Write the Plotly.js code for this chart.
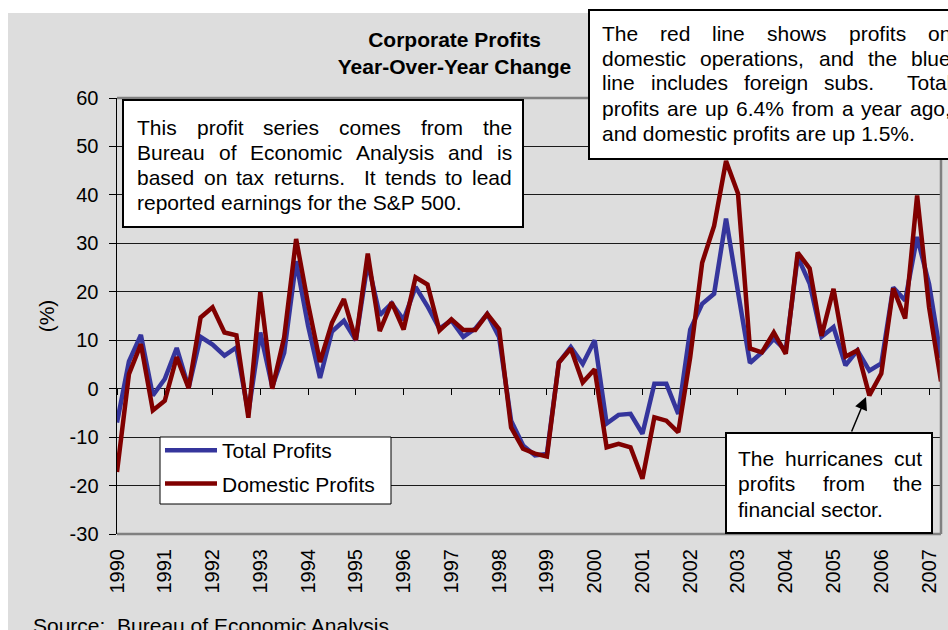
<!DOCTYPE html>
<html><head><meta charset="utf-8">
<script src="https://cdn.plot.ly/plotly-3.0.1.min.js"></script>
<style>html,body{margin:0;padding:0;background:#fff}#chart{width:948px;height:630px}</style>
</head><body><div id="chart"></div>
<script>
// ---------------- data ----------------
const quarters = [
 1990.00,1990.25,1990.50,1990.75, 1991.00,1991.25,1991.50,1991.75,
 1992.00,1992.25,1992.50,1992.75, 1993.00,1993.25,1993.50,1993.75,
 1994.00,1994.25,1994.50,1994.75, 1995.00,1995.25,1995.50,1995.75,
 1996.00,1996.25,1996.50,1996.75, 1997.00,1997.25,1997.50,1997.75,
 1998.00,1998.25,1998.50,1998.75, 1999.00,1999.25,1999.50,1999.75,
 2000.00,2000.25,2000.50,2000.75, 2001.00,2001.25,2001.50,2001.75,
 2002.00,2002.25,2002.50,2002.75, 2003.00,2003.25,2003.50,2003.75,
 2004.00,2004.25,2004.50,2004.75, 2005.00,2005.25,2005.50,2005.75,
 2006.00,2006.25,2006.50,2006.75, 2007.00,2007.25
];
const totalProfits = [
 -7.0, 5.6, 11.1, -1.4,   2.0, 8.4, 0.2, 10.7,
  9.1, 6.8, 8.5, -5.0,   11.6, 0.4, 7.4, 26.3,
 13.0, 2.2, 11.8, 14.0,  10.0, 26.0, 15.2, 17.6,
 14.2, 21.0, 17.0, 12.4, 14.1, 10.7, 12.4, 15.4,
 10.6, -6.6, -11.7, -13.8, -13.5, 5.4, 8.6, 5.1,
 10.0, -7.2, -5.4, -5.2,  -9.3, 1.0, 1.0, -5.2,
 12.2, 17.5, 19.6, 35.1,  20.0, 5.3, 7.5, 10.3,
  7.9, 27.2, 21.7, 10.7,  12.7, 4.8, 7.9, 3.7,
  5.2, 20.9, 18.2, 31.3,  21.6, 6.4
];
const domesticProfits = [
 -17.2, 3.0, 9.2, -4.5,   -2.5, 6.5, 0.1, 14.7,
  16.8, 11.6, 11.0, -6.0,  19.9, 0.0, 10.6, 30.9,
  17.5, 5.5, 13.6, 18.5,   10.0, 27.9, 11.9, 17.8,
  12.2, 23.0, 21.5, 12.0,  14.3, 12.1, 12.1, 15.4,
  12.3, -8.0, -12.4, -13.4, -14.0, 5.4, 8.3, 1.3,
  4.0, -12.1, -11.4, -12.1, -18.6, -5.9, -6.6, -9.0,
  6.5, 26.0, 33.6, 47.0,   40.3, 8.3, 7.5, 11.6,
  7.2, 28.1, 24.8, 10.9,   20.6, 6.6, 7.9, -1.4,
  3.1, 20.7, 14.5, 39.9,   16.8, 1.5
];
const yearTicks = [1990,1991,1992,1993,1994,1995,1996,1997,1998,1999,2000,2001,2002,2003,2004,2005,2006,2007];
const yearLabels = ['1990','1991','1992','1993','1994','1995','1996','1997','1998','1999','2000','2001','2002','2003','2004','2005','2006','2007'];
const yTicks = [-30,-20,-10,0,10,20,30,40,50,60];
const yTickLabels = ['-30','-20','-10','0','10','20','30','40','50','60'];
const seriesNames = ['Total Profits','Domestic Profits'];

const noteLeft = [
 'This profit series comes from the',
 'Bureau of Economic Analysis and is',
 'based on tax returns.  It tends to lead',
 'reported earnings for the S&P 500.'
];
const noteRight = [
 'The red line shows profits on',
 'domestic operations, and the blue',
 'line includes foreign subs.  Total',
 'profits are up 6.4% from a year ago,',
 'and domestic profits are up 1.5%.'
];
const noteHurricane = [
 'The hurricanes cut',
 'profits from the',
 'financial sector.'
];

// ---------------- layout helpers ----------------
const FONT = 'Liberation Sans, Arial, sans-serif';
const L = 117, R = 941, T = 98, B = 534;
const px = x => (x - L) / (R - L);
const py = y => (B - y) / (B - T);

const cnv = document.createElement('canvas');
const ctx = cnv.getContext('2d');
function textW(s, size) { ctx.font = size + 'px "Liberation Sans", Arial, sans-serif'; return ctx.measureText(s).width; }

function justified(lines, left, right, ys, size) {
  const out = [];
  lines.forEach((line, k) => {
    const last = k === lines.length - 1;
    if (last) {
      out.push({xref:'paper', yref:'paper', x:px(left), y:py(ys[k]), xanchor:'left', yanchor:'middle',
        text:line.replace(/ /g,'&nbsp;'), showarrow:false, borderpad:0, font:{family:FONT, size:size, color:'#000'}});
      return;
    }
    const words = line.split(' ');
    const widths = words.map(w => textW(w, size));
    const total = widths.reduce((a,b)=>a+b,0);
    const gap = (right - left - total) / (words.length - 1);
    let x = left;
    words.forEach((w, i) => {
      if (w.length) {
        out.push({xref:'paper', yref:'paper', x:px(x), y:py(ys[k]), xanchor:'left', yanchor:'middle',
          text:w, showarrow:false, borderpad:0, font:{family:FONT, size:size, color:'#000'}});
      }
      x += widths[i] + gap;
    });
  });
  return out;
}

const annotations = []
  .concat(justified(noteLeft, 136, 511, [127, 152, 177, 202], 21))
  .concat(justified(noteRight, 601, 950, [33, 58, 83, 108.5, 134], 21))
  .concat(justified(noteHurricane, 737, 921, [458, 483.5, 509], 21));

annotations.push({xref:'paper', yref:'paper', x:px(866), y:py(397), ax:-15, ay:36, text:'',
  showarrow:true, arrowhead:2, arrowsize:1.7, arrowwidth:1.5, arrowcolor:'#000', standoff:0});
annotations.push({xref:'paper', yref:'paper', x:px(32), y:py(625), xanchor:'left', yanchor:'middle',
  text:'Source:&nbsp;&nbsp;Bureau of Economic Analysis', showarrow:false, borderpad:0,
  font:{family:FONT, size:21, color:'#000'}});

const shapes = [
  {type:'rect', xref:'paper', yref:'paper', x0:px(8), x1:px(960), y0:py(640), y1:py(13),
   fillcolor:'#dddddd', line:{width:0}, layer:'below'},
  {type:'line', xref:'paper', yref:'paper', x0:0, x1:1, y0:1, y1:1, line:{color:'#808080', width:2.5}, layer:'above'},
  {type:'line', xref:'paper', yref:'paper', x0:1, x1:1, y0:0, y1:1, line:{color:'#808080', width:2.5}, layer:'above'},
  {type:'line', xref:'paper', yref:'paper', x0:0, x1:1, y0:0, y1:0, line:{color:'#808080', width:2.5}, layer:'above'},
  {type:'rect', xref:'paper', yref:'paper', x0:px(123), x1:px(523), y0:py(227), y1:py(100),
   fillcolor:'#ffffff', line:{color:'#000', width:2}, layer:'above'},
  {type:'rect', xref:'paper', yref:'paper', x0:px(589), x1:px(980), y0:py(159), y1:py(10),
   fillcolor:'#ffffff', line:{color:'#000', width:2}, layer:'above'},
  {type:'rect', xref:'paper', yref:'paper', x0:px(726), x1:px(932), y0:py(533), y1:py(433),
   fillcolor:'#ffffff', line:{color:'#000', width:2}, layer:'above'},
  // legend frame
  {type:'rect', xref:'paper', yref:'paper', x0:px(160), x1:px(391), y0:py(504), y1:py(437),
   fillcolor:'#ffffff', line:{color:'#000', width:1}, layer:'above'}
];

const traces = [
  {x:quarters, y:totalProfits, type:'scatter', mode:'lines', name:seriesNames[0], legendgroup:'a',
   line:{color:'#35359c', width:4.5}, hoverinfo:'skip'},
  {x:quarters, y:domesticProfits, type:'scatter', mode:'lines', name:seriesNames[1], legendgroup:'b',
   line:{color:'#800000', width:4.5}, hoverinfo:'skip'},
  {x:[], y:[], xaxis:'x2', yaxis:'y', showlegend:false, hoverinfo:'skip', type:'scatter', mode:'lines'}
];

const layout = {
  width:948, height:630,
  margin:{l:L, r:948-R, t:T, b:630-B, pad:0},
  paper_bgcolor:'#ffffff', plot_bgcolor:'#dddddd',
  font:{family:FONT, color:'#000', size:20},
  title:{text:'<b>Corporate Profits</b><br><b>Year-Over-Year Change</b>', font:{family:FONT, size:21, color:'#000'},
    xref:'container', yref:'container', x:454.5/948, y:1-47/630, xanchor:'center', yanchor:'middle'},
  showlegend:true,
  legend:{x:px(160), y:py(430), xanchor:'left', yanchor:'top', bgcolor:'rgba(0,0,0,0)', borderwidth:0,
    traceorder:'grouped', tracegroupgap:3,
    font:{family:FONT, size:21, color:'#000'}, itemwidth:52},
  xaxis:{range:[1990, 2007.25], tickmode:'array', tickvals:yearTicks, ticktext:yearLabels, tickangle:-90,
    ticks:'', showgrid:false, zeroline:false, showline:false, ticklabelstandoff:10,
    tickfont:{family:FONT, size:20, color:'#000'}, fixedrange:true},
  xaxis2:{matches:'x', overlaying:'x', anchor:'free', position:py(388), side:'bottom', tickmode:'array', tickvals:yearTicks,
    ticks:'outside', ticklen:6, tickcolor:'#000', tickwidth:1, showticklabels:false, showgrid:false, zeroline:false, showline:false},
  yaxis:{range:[-30,60], tickmode:'array', tickvals:yTicks, ticktext:yTickLabels, ticks:'outside', ticklen:7,
    tickcolor:'#000', showline:true, linecolor:'#000', linewidth:1.5, gridcolor:'#1a1a1a', gridwidth:1, zeroline:false,
    ticklabelstandoff:6, tickfont:{family:FONT, size:20, color:'#000'},
    title:{text:'(%)', font:{family:FONT, size:21, color:'#000'}, standoff:9}},
  shapes:shapes,
  annotations:annotations
};

Plotly.newPlot('chart', traces, layout, {displayModeBar:false, staticPlot:true});
</script></body></html>
